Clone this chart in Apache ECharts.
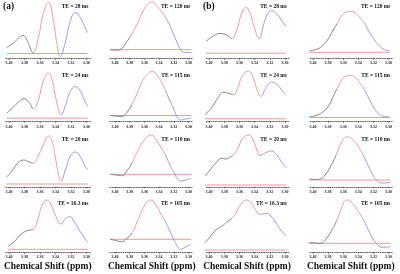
<!DOCTYPE html>
<html><head><meta charset="utf-8">
<script src="https://cdn.jsdelivr.net/npm/echarts@6/dist/echarts.min.js"></script>
<style>html,body{margin:0;padding:0;background:#fff}#c{width:400px;height:274px}</style>
</head><body><div id="c"></div>
<script>
// ---------- data (ppm, intensity) ----------
const tickValues = [3.40, 3.38, 3.36, 3.34, 3.32, 3.30];
const xAxisTitle = 'Chemical Shift (ppm)';
const panelTags = ['(a)', '(b)'];

// column (a) left: short TE
const a28 = [[3.4026,11],[3.395,15],[3.388,20],[3.382,23],[3.376,17],[3.369,6],[3.362,21],[3.356,44],[3.349,56],[3.343,39],[3.338,14],[3.334,2],[3.328,14],[3.321,37],[3.314,46],[3.308,41],[3.299,26]];
const a28Split = [3.369, 3.334]; const a28Base = 5;
const a24 = [[3.403,8.3],[3.3961,13],[3.3883,19],[3.3805,22.7],[3.374,19],[3.3684,12.7],[3.3623,21],[3.3584,33],[3.3539,44],[3.349,48.3],[3.3442,41],[3.3403,26],[3.3364,13],[3.3329,6.7],[3.3273,16],[3.3208,30],[3.3143,35],[3.3078,30],[3.3026,21],[3.2983,15]];
const a24Split = [3.3684, 3.3329]; const a24Base = 3.3;
const a20 = [[3.403,10],[3.3961,16],[3.3883,24],[3.3805,27],[3.374,25],[3.3684,24],[3.3623,31],[3.3558,42],[3.349,51],[3.3442,45],[3.3403,30],[3.3364,14],[3.3329,6],[3.3273,17],[3.3208,31],[3.3143,35],[3.3078,30],[3.3026,22],[3.2983,17]];
const a20Split = [3.3684, 3.3329]; const a20Base = 3;
const a163 = [[3.4013,6.5],[3.3935,10.5],[3.3857,17.5],[3.377,21.8],[3.3684,23.5],[3.3623,34.5],[3.3571,47.5],[3.351,52.5],[3.3455,47.5],[3.3403,37.5],[3.3329,28.5],[3.3273,33.5],[3.3217,35.8],[3.3156,30.5],[3.3078,20.5],[3.2983,9.8]];
const a163Split = [3.3684, 3.3329]; const a163Base = 3.2;

// column (a) right: long TE
const a120 = [[3.4068,8.8],[3.3986,8.5],[3.3918,9.5],[3.3863,14.5],[3.3795,21.5],[3.3712,32.5],[3.363,45.5],[3.3562,53.5],[3.3493,56.5],[3.3411,50.5],[3.3315,41.5],[3.3233,29.5],[3.3164,17.5],[3.311,9.5],[3.3055,6],[3.2959,6]];
const a120Split = [3.3795, 3.3315]; const a120Base = 8.8;
const a115 = [[3.4068,6],[3.3986,5.5],[3.3908,5],[3.3849,8],[3.3771,17],[3.3699,28],[3.363,40],[3.3562,47],[3.3493,50],[3.3425,46],[3.3356,38],[3.3315,31],[3.3247,20],[3.3192,11],[3.3151,4],[3.311,1.5],[3.3041,2.5],[3.2963,3.5]];
const a115Split = [3.3771, 3.3315]; const a115Base = 6;
const a110 = [[3.4068,12.7],[3.3986,12],[3.3908,11.3],[3.3849,15],[3.3771,23.7],[3.3699,35],[3.363,44],[3.3562,50],[3.3507,52],[3.3438,47],[3.337,39],[3.3315,32],[3.3247,21],[3.3192,13.7],[3.3151,8],[3.311,6],[3.3041,7],[3.2963,8.7]];
const a110Split = [3.3771, 3.3315]; const a110Base = 12.7;
const a105 = [[3.4068,13.2],[3.3986,12],[3.3908,10.8],[3.3849,13.5],[3.3771,19.2],[3.3699,30.5],[3.363,42.5],[3.3575,49.5],[3.3521,52.5],[3.3452,48.5],[3.3384,39.5],[3.3315,30.8],[3.3247,20.5],[3.3201,13.2],[3.3151,6.5],[3.311,3.2],[3.3041,5.5],[3.2963,8.5]];
const a105Split = [3.3771, 3.3315]; const a105Base = 13.2;

// column (b) left: short TE
const b28 = [[3.404,17],[3.3947,22.3],[3.3855,25],[3.3776,23.8],[3.3701,20],[3.3632,29.3],[3.3579,43.3],[3.3513,51],[3.346,45.3],[3.3408,32.3],[3.3342,20],[3.3276,35.3],[3.3224,45.3],[3.3175,47.6],[3.3105,44.3],[3.3039,37.3],[3.2987,32]];
const b28Split = [3.3701, 3.3342]; const b28Base = 5.3;
const b24 = [[3.4053,7],[3.3974,13],[3.3895,22],[3.3803,29.3],[3.3737,28],[3.368,27],[3.3618,34],[3.3566,45],[3.3483,50.3],[3.3421,44],[3.3368,32],[3.332,25.3],[3.3263,32],[3.3211,38],[3.3162,39.3],[3.3092,36],[3.3039,31],[3.2987,27]];
const b24Split = [3.368, 3.332]; const b24Base = 2.7;
const b20 = [[3.4053,11],[3.3987,17],[3.3921,23],[3.3833,28.7],[3.3776,28],[3.3724,30],[3.368,32],[3.3618,39],[3.3553,49],[3.347,52],[3.3421,47],[3.3368,37],[3.3329,31.3],[3.3263,34],[3.3175,36],[3.3118,33],[3.3053,26],[3.2987,19.3]];
const b20Split = [3.368, 3.3329]; const b20Base = 2;
const b163 = [[3.4053,9.8],[3.3987,15.5],[3.3908,22.5],[3.3812,27.5],[3.375,31.5],[3.3701,34.2],[3.3645,39.5],[3.3579,48.5],[3.3504,52.5],[3.3447,49.5],[3.3395,43.5],[3.3338,38.5],[3.3289,38.5],[3.3237,39.2],[3.3184,36.5],[3.3118,29.5],[3.3053,22.5],[3.2987,16.5]];
const b163Split = [3.3701, 3.3338]; const b163Base = 2.5;

// column (b) right: long TE
const b120 = [[3.4049,7.8],[3.396,9],[3.388,12.5],[3.38,19.5],[3.3733,28.5],[3.368,35],[3.3613,43.5],[3.356,46.5],[3.3507,47.2],[3.344,45.5],[3.3373,40.5],[3.332,35.5],[3.3253,26.5],[3.3187,18.5],[3.312,12.5],[3.3053,9],[3.2983,7.8]];
const b120Split = [3.368, 3.332]; const b120Base = 6.2;
const b115 = [[3.4049,5],[3.396,6],[3.388,9],[3.38,15],[3.3733,25],[3.368,33],[3.3613,42],[3.356,45.5],[3.3507,46],[3.344,44],[3.3373,38],[3.332,32],[3.3253,22],[3.3187,13],[3.312,7],[3.3053,5],[3.2983,4.5]];
const b115Split = [3.368, 3.332]; const b115Base = 4;
const b110 = [[3.4049,8],[3.3973,7.5],[3.3907,8],[3.384,12],[3.3773,20],[3.3693,32],[3.3627,44],[3.3551,50],[3.348,48],[3.3413,42],[3.3329,31],[3.3267,21],[3.3213,13],[3.316,7],[3.3084,4],[3.2973,4.5]];
const b110Split = [3.3693, 3.3329]; const b110Base = 7;
const b105 = [[3.4049,9.8],[3.3973,9.5],[3.3907,9.2],[3.384,12.5],[3.3773,19.5],[3.3693,30.8],[3.3627,43.5],[3.3551,52.5],[3.348,49.5],[3.3413,42.5],[3.3329,32.5],[3.3267,22.5],[3.3213,14.5],[3.316,9.2],[3.3084,5.2],[3.2973,5.8]];
const b105Split = [3.3693, 3.3329]; const b105Base = 9.2;

const panels = [
  [a28,a28Split,a28Base,'TE = 28 ms'],[a120,a120Split,a120Base,'TE = 120 ms'],[b28,b28Split,b28Base,'TE = 28 ms'],[b120,b120Split,b120Base,'TE = 120 ms'],
  [a24,a24Split,a24Base,'TE = 24 ms'],[a115,a115Split,a115Base,'TE = 115 ms'],[b24,b24Split,b24Base,'TE = 24 ms'],[b115,b115Split,b115Base,'TE = 115 ms'],
  [a20,a20Split,a20Base,'TE = 20 ms'],[a110,a110Split,a110Base,'TE = 110 ms'],[b20,b20Split,b20Base,'TE = 20 ms'],[b110,b110Split,b110Base,'TE = 110 ms'],
  [a163,a163Split,a163Base,'TE = 16.3 ms'],[a105,a105Split,a105Base,'TE = 105 ms'],[b163,b163Split,b163Base,'TE = 16.3 ms'],[b105,b105Split,b105Base,'TE = 105 ms']
];

// ---------- layout ----------
const colPx = [[9,86.5],[115,188.5],[209,285],[313,388.5]];   // pixel of 3.40 and 3.30
const colRange = [[3.405,3.295],[3.407,3.295],[3.405,3.295],[3.405,3.295]];
const rowAxisY = [58.5,121.5,187,252.5];
const rowLabelY = [62.5,127.3,192.3,257.3];
const rowTeY = [7,75.5,139.5,203.5];
const panelH = 58;
const GRAY = '#777777', RED = '#f08c8c', BLUE = '#8e8ee8', BASE = '#f28a8a';
const SERIF = '"Liberation Serif","Times New Roman",serif';

const grid = [], xAxis = [], yAxis = [], series = [], visualMap = [], graphic = [];
panels.forEach((p, i) => {
  const r = Math.floor(i / 4), c = i % 4;
  const [curve, split, base, te] = p;
  const [p40, p30] = colPx[c];
  const scale = (p30 - p40) / 0.10;
  const [mx, mn] = colRange[c];
  const left = p40 - (mx - 3.40) * scale;
  const right = p30 + (3.30 - mn) * scale;
  const top = rowAxisY[r] - panelH;
  grid.push({left: left, top: top, width: right - left, height: panelH, containLabel: false});
  xAxis.push({
    type: 'value', gridIndex: i, min: mn, max: mx, inverse: true,
    axisLine: {show: true, onZero: false, lineStyle: {color: '#444', width: 0.8, type: [1, 1.2]}},
    axisTick: {show: true, customValues: tickValues, length: 1.2, lineStyle: {color: '#333', width: 0.8}},
    axisLabel: {show: true, customValues: tickValues, formatter: v => v.toFixed(2), fontSize: 4, fontWeight: 'bold',
      fontFamily: SERIF, color: '#222', margin: rowLabelY[r] - rowAxisY[r] - 2},
    splitLine: {show: false}
  });
  yAxis.push({type: 'value', gridIndex: i, min: 0, max: panelH, show: false, splitLine: {show: false}});
  const sIdx = series.length;
  series.push({type: 'line', xAxisIndex: i, yAxisIndex: i, data: curve, smooth: 0.5, symbol: 'none',
    lineStyle: {width: 0.9}, z: 3});
  visualMap.push({type: 'piecewise', show: false, seriesIndex: sIdx, dimension: 0,
    pieces: [{gt: split[0], color: GRAY}, {gt: split[1], lte: split[0], color: RED}, {lte: split[1], color: BLUE}]});
  series.push({type: 'line', xAxisIndex: i, yAxisIndex: i, symbol: 'none', z: 2,
    data: [[curve[0][0], base], [curve[curve.length - 1][0], base]],
    lineStyle: {color: BASE, width: 0.9}});
  graphic.push({type: 'text', right: 400 - (p30 + 2), top: rowTeY[r] - 3,
    style: {text: te, font: 'bold 5.5px ' + SERIF, fill: '#111'}});
});
graphic.push({type: 'text', left: 3, top: 2, style: {text: panelTags[0], font: 'bold 9.5px ' + SERIF, fill: '#111'}});
graphic.push({type: 'text', left: 203, top: 2, style: {text: panelTags[1], font: 'bold 9.5px ' + SERIF, fill: '#111'}});
colPx.forEach(cp => {
  const cx = (cp[0] + cp[1]) / 2;
  graphic.push({type: 'text', x: cx, y: 267, style: {text: xAxisTitle, font: 'bold 9.5px ' + SERIF, fill: '#111',
    textAlign: 'center', textVerticalAlign: 'middle'}});
});

const chart = echarts.init(document.getElementById('c'), null, {renderer: 'canvas'});
chart.setOption({animation: false, backgroundColor: '#fff', grid, xAxis, yAxis, series, visualMap, graphic});
</script></body></html>
